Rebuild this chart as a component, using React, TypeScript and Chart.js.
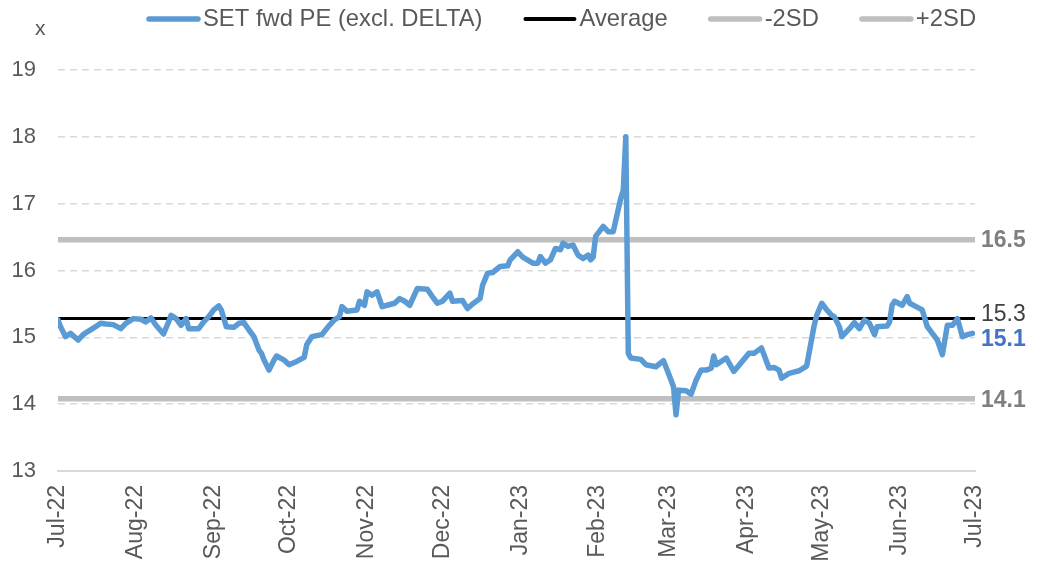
import React, { useEffect, useRef } from "react";
import { Chart, registerables } from "chart.js";

Chart.register(...registerables);

// Day offsets from 1 Jul 2022
const days = [
  0, 1, 3, 5, 8, 10, 12, 15, 17, 19, 22, 25, 27, 30, 33, 35, 37, 39, 42, 44, 45, 47, 49, 51, 52, 56, 58, 60, 62, 64, 65, 67,
  70, 72, 74, 76, 78, 80, 81, 82, 84, 86, 87, 90, 92, 95, 98, 99, 101, 105, 108, 110, 112, 113, 115, 119, 120, 122, 123, 125,
  127, 129, 131, 134, 136, 138, 140, 143, 147, 149, 151, 153, 156, 157, 161, 163, 165, 168, 169, 171, 173, 176, 179, 180, 183,
  185, 189, 191, 192, 194, 196, 198, 200, 201, 203, 205, 207, 209, 211, 212, 213, 214, 217, 219, 221, 222, 224, 225, 226, 227,
  228, 232, 234, 238, 241, 243, 245, 246, 247, 250, 252, 254, 256, 258, 260, 261, 262, 266, 269, 275, 277, 280, 283, 285, 287,
  288, 291, 295, 298, 301, 302, 304, 306, 308, 309, 311, 312, 315, 317, 319, 321, 323, 325, 326, 330, 331, 332, 333, 336, 338,
  339, 341, 344, 346, 348, 350, 352, 354, 356, 358, 360, 362, 364,
];

const setFwdPE = [
  15.26, 15.16, 15.01, 15.06, 14.96, 15.04, 15.09, 15.16, 15.21, 15.2, 15.19, 15.13, 15.21, 15.28, 15.27, 15.23, 15.29, 15.18,
  15.05, 15.23, 15.33, 15.28, 15.18, 15.28, 15.13, 15.13, 15.23, 15.31, 15.41, 15.47, 15.41, 15.16,
  15.15, 15.21, 15.22, 15.11, 15.01, 14.81, 14.76, 14.66, 14.51, 14.66, 14.72, 14.66, 14.59, 14.64, 14.7, 14.89, 15.01, 15.04,
  15.18, 15.26, 15.31, 15.46, 15.39, 15.41, 15.54, 15.48, 15.68, 15.63,
  15.68, 15.46, 15.48, 15.51, 15.58, 15.54, 15.48, 15.73, 15.72, 15.61, 15.51, 15.54, 15.66, 15.54, 15.55, 15.43, 15.5, 15.58,
  15.78, 15.96, 15.97, 16.06, 16.07, 16.16, 16.28,
  16.2, 16.11, 16.11, 16.21, 16.11, 16.16, 16.33, 16.31, 16.41, 16.36, 16.38, 16.23, 16.18, 16.23, 16.16, 16.2, 16.51, 16.66,
  16.58, 16.58, 16.75, 17.08, 17.2, 18.0, 14.76,
  14.69, 14.67, 14.59, 14.56, 14.65, 14.46, 14.26, 13.84, 14.21, 14.2, 14.15, 14.36, 14.51, 14.51, 14.54, 14.72, 14.59, 14.69,
  14.49, 14.76, 14.76, 14.84, 14.54, 14.55, 14.51,
  14.39, 14.46, 14.5, 14.57, 15.18, 15.33, 15.51, 15.41, 15.33, 15.31, 15.16, 15.01, 15.13, 15.22, 15.13, 15.26, 15.21, 15.04,
  15.16, 15.17, 15.23, 15.48, 15.54, 15.48, 15.61,
  15.51, 15.47, 15.41, 15.16, 15.06, 14.96, 14.74, 15.18, 15.18, 15.28, 15.01, 15.04, 15.06,
];

const AVERAGE = 15.28;
const MINUS_2SD = 14.08;
const PLUS_2SD = 16.46;

const monthTicks = [0, 31, 62, 92, 123, 153, 184, 215, 243, 274, 304, 335, 365];
const monthLabels = [
  "Jul-22", "Aug-22", "Sep-22", "Oct-22", "Nov-22", "Dec-22", "Jan-23",
  "Feb-23", "Mar-23", "Apr-23", "May-23", "Jun-23", "Jul-23",
];

const seriesNames = ["SET fwd PE (excl. DELTA)", "Average", "-2SD", "+2SD"];
const seriesColors = ["#5B9BD5", "#000000", "#BFBFBF", "#BFBFBF"];

const FONT = "'Liberation Sans', Arial, sans-serif";
const TEXT_GRAY = "#595959";

const overlayPlugin = {
  id: "overlay",
  afterDraw(chart: any) {
    const { ctx } = chart;
    const yS = chart.scales.y;
    ctx.save();
    // y unit label
    ctx.font = `21px ${FONT}`;
    ctx.fillStyle = TEXT_GRAY;
    ctx.textBaseline = "middle";
    ctx.textAlign = "left";
    ctx.fillText("x", 35, 29);

    // legend
    ctx.font = `23.8px ${FONT}`;
    let x = 147;
    const ly = 19;
    seriesNames.forEach((name, i) => {
      ctx.strokeStyle = seriesColors[i];
      ctx.lineWidth = i === 1 ? 4 : 5.5;
      ctx.lineCap = "round";
      ctx.beginPath();
      ctx.moveTo(x + 2, ly);
      ctx.lineTo(x + 51, ly);
      ctx.stroke();
      ctx.fillStyle = TEXT_GRAY;
      ctx.fillText(name, x + 56, ly);
      x += 56 + ctx.measureText(name).width + 41;
    });

    // right labels
    const rx = chart.chartArea.right + 6;
    const last = setFwdPE[setFwdPE.length - 1];
    const labels = [
      { v: PLUS_2SD, dy: 1, color: "#7F7F7F", bold: true },
      { v: AVERAGE, dy: -4, color: "#404040", bold: false },
      { v: last, dy: 6, color: "#4472C4", bold: true },
      { v: MINUS_2SD, dy: 2, color: "#7F7F7F", bold: true },
    ];
    labels.forEach((l) => {
      ctx.font = `${l.bold ? "bold " : ""}23px ${FONT}`;
      ctx.fillStyle = l.color;
      ctx.fillText(l.v.toFixed(1), rx, yS.getPixelForValue(l.v) + l.dy);
    });
    ctx.restore();
  },
};

export default function App() {
  const ref = useRef<HTMLCanvasElement | null>(null);

  useEffect(() => {
    if (!ref.current) return;
    const lineData = days.map((d, i) => ({ x: d, y: setFwdPE[i] }));
    const flat = (v: number) => [
      { x: 0, y: v },
      { x: 365, y: v },
    ];
    const chart = new Chart(ref.current, {
      type: "line",
      data: {
        datasets: [
          {
            label: seriesNames[0],
            data: lineData,
            borderColor: seriesColors[0],
            backgroundColor: seriesColors[0],
            borderWidth: 5.5,
            pointRadius: 0,
            tension: 0,
            borderJoinStyle: "round",
            borderCapStyle: "round",
          },
          {
            label: seriesNames[1],
            data: flat(AVERAGE),
            borderColor: seriesColors[1],
            backgroundColor: seriesColors[1],
            borderWidth: 3,
            pointRadius: 0,
          },
          {
            label: seriesNames[2],
            data: flat(MINUS_2SD),
            borderColor: seriesColors[2],
            backgroundColor: seriesColors[2],
            borderWidth: 5.5,
            pointRadius: 0,
          },
          {
            label: seriesNames[3],
            data: flat(PLUS_2SD),
            borderColor: seriesColors[3],
            backgroundColor: seriesColors[3],
            borderWidth: 5.5,
            pointRadius: 0,
          },
        ],
      },
      options: {
        animation: false,
        responsive: false,
        maintainAspectRatio: false,
        layout: { padding: { top: 70, right: 68, left: 0, bottom: 0 } },
        plugins: {
          legend: { display: false },
          tooltip: { enabled: false },
        },
        scales: {
          x: {
            type: "linear",
            min: 0,
            max: 365,
            afterBuildTicks: (scale: any) => {
              scale.ticks = monthTicks.map((v) => ({ value: v }));
            },
            afterFit: (scale: any) => {
              scale.height = 96;
            },
            grid: { display: false, drawTicks: false },
            border: { display: true, color: "#D9D9D9", width: 2 },
            ticks: {
              autoSkip: false,
              minRotation: 90,
              maxRotation: 90,
              padding: 14,
              color: TEXT_GRAY,
              font: { family: FONT, size: 23 },
              callback: (value: any) => {
                const idx = monthTicks.indexOf(Number(value));
                return idx >= 0 ? monthLabels[idx] : "";
              },
            },
          },
          y: {
            min: 13,
            max: 19,
            afterFit: (scale: any) => {
              scale.width = 58;
            },
            grid: {
              drawTicks: false,
              color: (c: any) => (c.tick && c.tick.value === 13 ? "rgba(0,0,0,0)" : "#D9D9D9"),
              lineWidth: 1.5,
            },
            border: { display: false, dash: [7, 5] },
            ticks: {
              stepSize: 1,
              padding: 22,
              color: TEXT_GRAY,
              font: { family: FONT, size: 22 },
            },
          },
        },
      },
      plugins: [overlayPlugin],
    } as any);
    return () => chart.destroy();
  }, []);

  return (
    <div style={{ position: "absolute", left: 0, top: 0, width: 1043, height: 567, background: "#fff" }}>
      <canvas ref={ref} width={1043} height={567} style={{ width: 1043, height: 567 }} />
    </div>
  );
}
